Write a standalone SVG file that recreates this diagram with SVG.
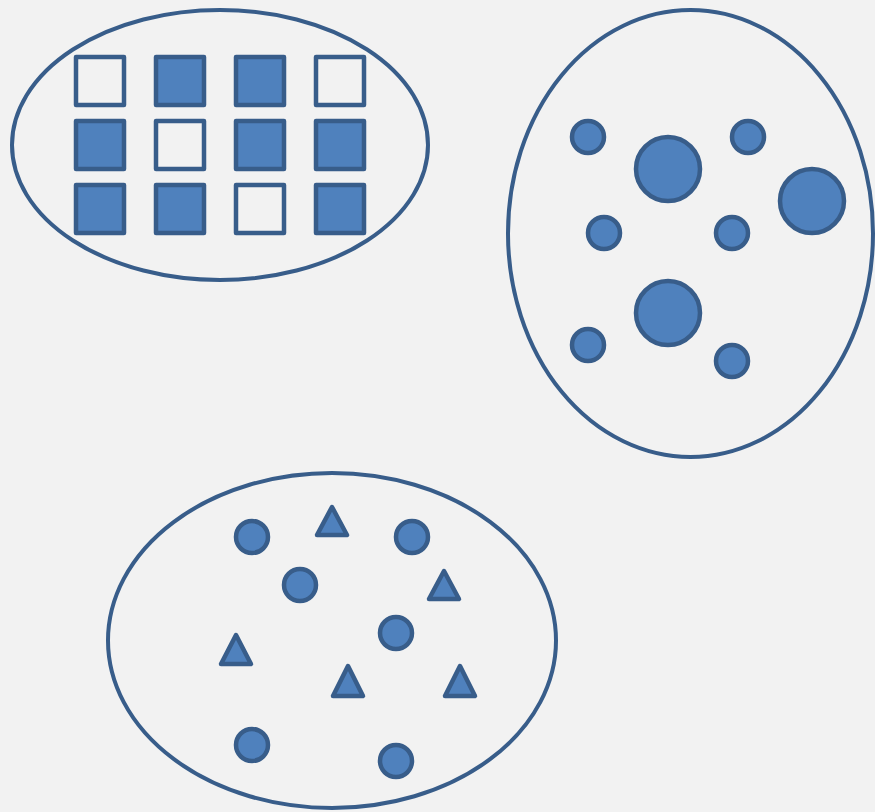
<svg xmlns="http://www.w3.org/2000/svg" width="875" height="812" viewBox="0 0 875 812">
<style>
.bg{fill:#F2F2F2}
.set{fill:none;stroke:#385D8A;stroke-width:4}
.f{fill:#4F81BD;stroke:#385D8A;stroke-width:4.5;stroke-linejoin:round}
.e{fill:none;stroke:#385D8A;stroke-width:4.5;stroke-linejoin:round}
</style>
<rect class="bg" x="0" y="0" width="875" height="812"/>
<g id="set-squares">
<ellipse class="set" cx="220" cy="145" rx="208" ry="135"/>
<rect class="e" x="76" y="57" width="48" height="48"/>
<rect class="f" x="156" y="57" width="48" height="48"/>
<rect class="f" x="236" y="57" width="48" height="48"/>
<rect class="e" x="316" y="57" width="48" height="48"/>
<rect class="f" x="76" y="121" width="48" height="48"/>
<rect class="e" x="156" y="121" width="48" height="48"/>
<rect class="f" x="236" y="121" width="48" height="48"/>
<rect class="f" x="316" y="121" width="48" height="48"/>
<rect class="f" x="76" y="185" width="48" height="48"/>
<rect class="f" x="156" y="185" width="48" height="48"/>
<rect class="e" x="236" y="185" width="48" height="48"/>
<rect class="f" x="316" y="185" width="48" height="48"/>
</g>
<g id="set-circles">
<ellipse class="set" cx="690.5" cy="233.5" rx="182.5" ry="223.5"/>
<circle class="f" cx="588" cy="137" r="16"/>
<circle class="f" cx="668" cy="169" r="32"/>
<circle class="f" cx="748" cy="137" r="16"/>
<circle class="f" cx="812" cy="201" r="32"/>
<circle class="f" cx="604" cy="233" r="16"/>
<circle class="f" cx="732" cy="233" r="16"/>
<circle class="f" cx="668" cy="313" r="32"/>
<circle class="f" cx="588" cy="345" r="16"/>
<circle class="f" cx="732" cy="361" r="16"/>
</g>
<g id="set-mixed">
<ellipse class="set" cx="332" cy="640.5" rx="224" ry="167.5"/>
<circle class="f" cx="252" cy="537" r="16"/>
<circle class="f" cx="412" cy="537" r="16"/>
<circle class="f" cx="300" cy="585" r="16"/>
<circle class="f" cx="396" cy="633" r="16"/>
<circle class="f" cx="252" cy="745" r="16"/>
<circle class="f" cx="396" cy="761" r="16"/>
<polygon class="f" points="332,507 347,535 317,535"/>
<polygon class="f" points="444,571 459,599 429,599"/>
<polygon class="f" points="236,635 251,664 221,664"/>
<polygon class="f" points="348,666 363,696 333,696"/>
<polygon class="f" points="460,666 475,696 445,696"/>
</g>
</svg>
